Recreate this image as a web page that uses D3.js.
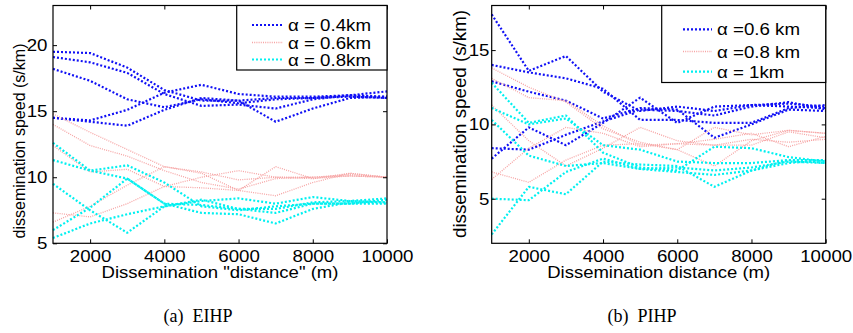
<!DOCTYPE html>
<html>
<head>
<meta charset="utf-8">
<script src="https://cdn.jsdelivr.net/npm/d3@7"></script>
<style>
  html, body { margin: 0; padding: 0; background: #fff; }
  svg { display: block; }
</style>
</head>
<body>
<svg id="chart" width="853" height="333"></svg>
<script>
// ---------- DATA ----------
const distances = [1000, 2000, 3000, 4000, 5000, 6000, 7000, 8000, 9000, 10000];
const xTicks = [2000, 4000, 6000, 8000, 10000];

// (a) EIHP
const eihpYTicks = [5, 10, 15, 20];
const eihpLegend = ["α = 0.4km", "α = 0.6km", "α = 0.8km"];
const eihpAlpha04 = [
  [19.5, 19.4, 18.3, 16.6, 15.8, 15.8, 16.0, 16.0, 16.2, 16.0],
  [19.1, 18.7, 17.9, 16.3, 15.4, 15.5, 15.2, 15.9, 16.2, 16.1],
  [18.2, 17.3, 15.9, 15.3, 15.9, 15.6, 15.9, 16.0, 16.1, 16.0],
  [14.5, 14.3, 15.1, 16.4, 17.0, 16.3, 16.1, 16.1, 16.2, 16.5],
  [14.5, 14.2, 13.9, 15.1, 16.0, 15.8, 14.2, 15.2, 16.0, 16.1]
];
const eihpAlpha06 = [
  [14.8, 13.4, 12.1, 10.8, 10.4, 9.8, 10.0, 10.0, 10.2, 10.0],
  [14.0, 12.4, 11.6, 10.5, 9.6, 9.1, 9.9, 10.0, 10.1, 10.0],
  [12.4, 10.4, 10.6, 9.3, 9.2, 9.0, 10.8, 9.9, 10.3, 10.0],
  [7.3, 7.0, 8.0, 9.3, 10.0, 10.5, 10.0, 9.9, 10.1, 10.0],
  [6.6, 7.8, 9.4, 10.8, 10.3, 9.0, 8.6, 9.6, 10.3, 10.0]
];
const eihpAlpha08 = [
  [12.6, 10.5, 9.9, 8.0, 7.9, 7.6, 7.6, 8.1, 8.2, 8.1],
  [11.3, 10.5, 10.9, 9.6, 7.8, 7.5, 7.8, 8.0, 8.0, 8.0],
  [9.5, 7.5, 5.8, 7.8, 8.2, 8.4, 8.0, 8.5, 8.2, 8.4],
  [6.0, 7.7, 9.9, 8.0, 7.3, 7.2, 6.5, 7.6, 8.1, 8.1],
  [5.4, 6.5, 7.2, 7.8, 8.3, 7.6, 7.3, 8.0, 8.0, 8.3]
];

// (b) PIHP
const pihpYTicks = [5, 10, 15];
const pihpLegend = ["α =0.6 km", "α =0.8 km", "α = 1km"];
const pihpAlpha06 = [
  [17.4, 13.6, 14.6, 12.2, 10.9, 11.2, 10.9, 11.3, 11.4, 11.2],
  [14.0, 13.5, 13.1, 12.4, 10.3, 10.3, 10.1, 10.1, 11.1, 11.3],
  [12.9, 12.2, 11.6, 10.4, 11.1, 11.0, 9.1, 10.0, 11.0, 10.9],
  [8.4, 8.3, 9.3, 10.2, 11.0, 10.9, 10.6, 11.2, 11.5, 11.0],
  [7.7, 9.8, 8.6, 10.1, 11.8, 10.1, 11.2, 11.3, 11.2, 11.1]
];
const pihpAlpha08 = [
  [13.8, 12.5, 11.5, 9.7, 8.8, 8.3, 9.8, 9.3, 9.6, 9.4],
  [13.1, 11.8, 11.6, 9.9, 8.6, 8.7, 8.6, 8.6, 9.5, 9.1],
  [11.3, 8.9, 7.2, 8.4, 9.8, 8.9, 8.6, 9.0, 8.8, 9.0],
  [6.8, 6.1, 7.6, 8.6, 8.7, 8.3, 7.2, 8.9, 9.6, 9.4],
  [6.3, 8.4, 9.8, 9.4, 8.5, 8.7, 9.0, 9.4, 8.5, 9.2]
];
const pihpAlpha1 = [
  [12.8, 10.1, 10.6, 8.1, 7.1, 6.9, 8.5, 8.4, 7.8, 7.5],
  [11.1, 10.0, 10.4, 8.6, 8.3, 7.5, 7.4, 7.4, 7.6, 7.6],
  [10.3, 7.9, 7.2, 7.4, 7.0, 7.1, 6.9, 7.1, 7.5, 7.4],
  [5.0, 4.9, 6.8, 7.7, 7.0, 6.8, 6.6, 6.9, 7.4, 7.6],
  [2.6, 5.8, 5.3, 7.5, 7.3, 7.2, 5.8, 6.9, 7.6, 7.4]
];

// ---------- STYLES ----------
const seriesStyles = [
  { color: "#1010f5", width: 2.2, dash: "2,2" },
  { color: "#f6a4a4", width: 1.3, dash: "1,1.2" },
  { color: "#00f0f0", width: 2.2, dash: "2,2" }
];
const SANS = '"Liberation Sans", Arial, sans-serif';
const SERIF = '"Liberation Serif", "Times New Roman", serif';
const fontSize = 17;
const stretch = 1.1;

const panels = [
  {
    left: 53, right: 387, top: 5.5, bottom: 243.3,
    yDomain: [5, 23], yTicks: eihpYTicks, yTickPad: 5,
    groups: [eihpAlpha04, eihpAlpha06, eihpAlpha08],
    legend: eihpLegend,
    legendBox: { x: 236.7, y: 5.5, w: 150.3, h: 64.5 },
    legendLineX: [252, 283], legendTextX: 288, legendRowY: [25, 42.5, 59.5],
    xLabel: 'Dissemination "distance" (m)', xLabelLen: 237,
    yLabelX: 25, yLabelY: 141, yLabelLen: 195, yLabelSize: 16.5,
    caption: "(a)  EIHP", captionX: 198
  },
  {
    left: 491.7, right: 825.7, top: 5.5, bottom: 243.3,
    yDomain: [2, 18], yTicks: pihpYTicks, yTickPad: 2,
    groups: [pihpAlpha06, pihpAlpha08, pihpAlpha1],
    legend: pihpLegend,
    legendBox: { x: 661.7, y: 5.5, w: 164, h: 77 },
    legendLineX: [683, 712], legendTextX: 717, legendRowY: [29.3, 51.5, 71.7],
    xLabel: "Dissemination distance (m)", xLabelLen: 223,
    yLabelX: 466, yLabelY: 124, yLabelLen: 228, yLabelSize: 18.5,
    caption: "(b)  PIHP", captionX: 642
  }
];

const svg = d3.select("#chart");

panels.forEach(p => {
  const x = d3.scaleLinear().domain([1000, 10000]).range([p.left, p.right]);
  const y = d3.scaleLinear().domain(p.yDomain).range([p.bottom, p.top]);
  const g = svg.append("g");

  const line = d3.line().x((d, i) => x(distances[i])).y(d => y(d));

  // series
  p.groups.forEach((grp, gi) => {
    const st = seriesStyles[gi];
    grp.forEach(vals => {
      g.append("path")
        .attr("d", line(vals))
        .attr("fill", "none")
        .attr("stroke", st.color)
        .attr("stroke-width", st.width)
        .attr("stroke-dasharray", st.dash)
        .attr("stroke-linejoin", "round");
    });
  });

  // axes (ticks inside, MATLAB style)
  const tickLen = 4;
  const fmt = d3.format("d");
  const xAxisB = d3.axisBottom(x).tickValues(xTicks).tickSize(-tickLen).tickPadding(7).tickFormat(fmt);
  const xAxisT = d3.axisTop(x).tickValues(xTicks).tickSize(-tickLen).tickFormat("");
  const yAxisL = d3.axisLeft(y).tickValues(p.yTicks).tickSize(-tickLen).tickPadding(p.yTickPad).tickFormat(fmt);
  const yAxisR = d3.axisRight(y).tickValues(p.yTicks).tickSize(-tickLen).tickFormat("");

  const styleAxis = sel => {
    sel.select(".domain").remove();
    sel.selectAll("line").attr("stroke", "#000").attr("stroke-width", 1);
    sel.selectAll("text")
      .attr("font-size", fontSize)
      .attr("font-family", SANS)
      .attr("fill", "#000")
      .attr("transform", `scale(${stretch},1)`);
  };
  g.append("g").attr("transform", `translate(0,${p.bottom})`).call(xAxisB).call(styleAxis);
  g.append("g").attr("transform", `translate(0,${p.top})`).call(xAxisT).call(styleAxis);
  g.append("g").attr("transform", `translate(${p.left},0)`).call(yAxisL).call(styleAxis);
  g.append("g").attr("transform", `translate(${p.right},0)`).call(yAxisR).call(styleAxis);

  // frame
  g.append("rect")
    .attr("x", p.left).attr("y", p.top)
    .attr("width", p.right - p.left).attr("height", p.bottom - p.top)
    .attr("fill", "none").attr("stroke", "#000").attr("stroke-width", 1.2);

  // legend
  const lb = p.legendBox;
  g.append("rect").attr("x", lb.x).attr("y", lb.y).attr("width", lb.w).attr("height", lb.h)
    .attr("fill", "#fff").attr("stroke", "#000").attr("stroke-width", 1.2);
  p.legend.forEach((lab, i) => {
    const st = seriesStyles[i];
    const yy = p.legendRowY[i];
    g.append("line")
      .attr("x1", p.legendLineX[0]).attr("x2", p.legendLineX[1])
      .attr("y1", yy).attr("y2", yy)
      .attr("stroke", st.color).attr("stroke-width", st.width)
      .attr("stroke-dasharray", st.dash);
    g.append("text")
      .attr("transform", `translate(${p.legendTextX},${yy}) scale(${stretch},1)`)
      .attr("dy", "0.36em")
      .attr("font-size", fontSize).attr("font-family", SANS).attr("fill", "#000")
      .text(lab);
  });

  // axis labels
  g.append("text")
    .attr("x", (p.left + p.right) / 2).attr("y", 278)
    .attr("text-anchor", "middle")
    .attr("font-size", fontSize).attr("font-family", SANS).attr("fill", "#000")
    .attr("textLength", p.xLabelLen).attr("lengthAdjust", "spacingAndGlyphs")
    .text(p.xLabel);
  g.append("text")
    .attr("transform", `translate(${p.yLabelX},${p.yLabelY}) rotate(-90)`)
    .attr("text-anchor", "middle")
    .attr("font-size", p.yLabelSize).attr("font-family", SANS).attr("fill", "#000")
    .attr("textLength", p.yLabelLen).attr("lengthAdjust", "spacingAndGlyphs")
    .text("dissemination speed (s/km)");

  // caption
  g.append("text")
    .attr("x", p.captionX).attr("y", 322)
    .attr("text-anchor", "middle")
    .attr("font-size", 18)
    .style("font-family", SERIF)
    .style("white-space", "pre")
    .attr("fill", "#000")
    .text(p.caption);
});
</script>
</body>
</html>
